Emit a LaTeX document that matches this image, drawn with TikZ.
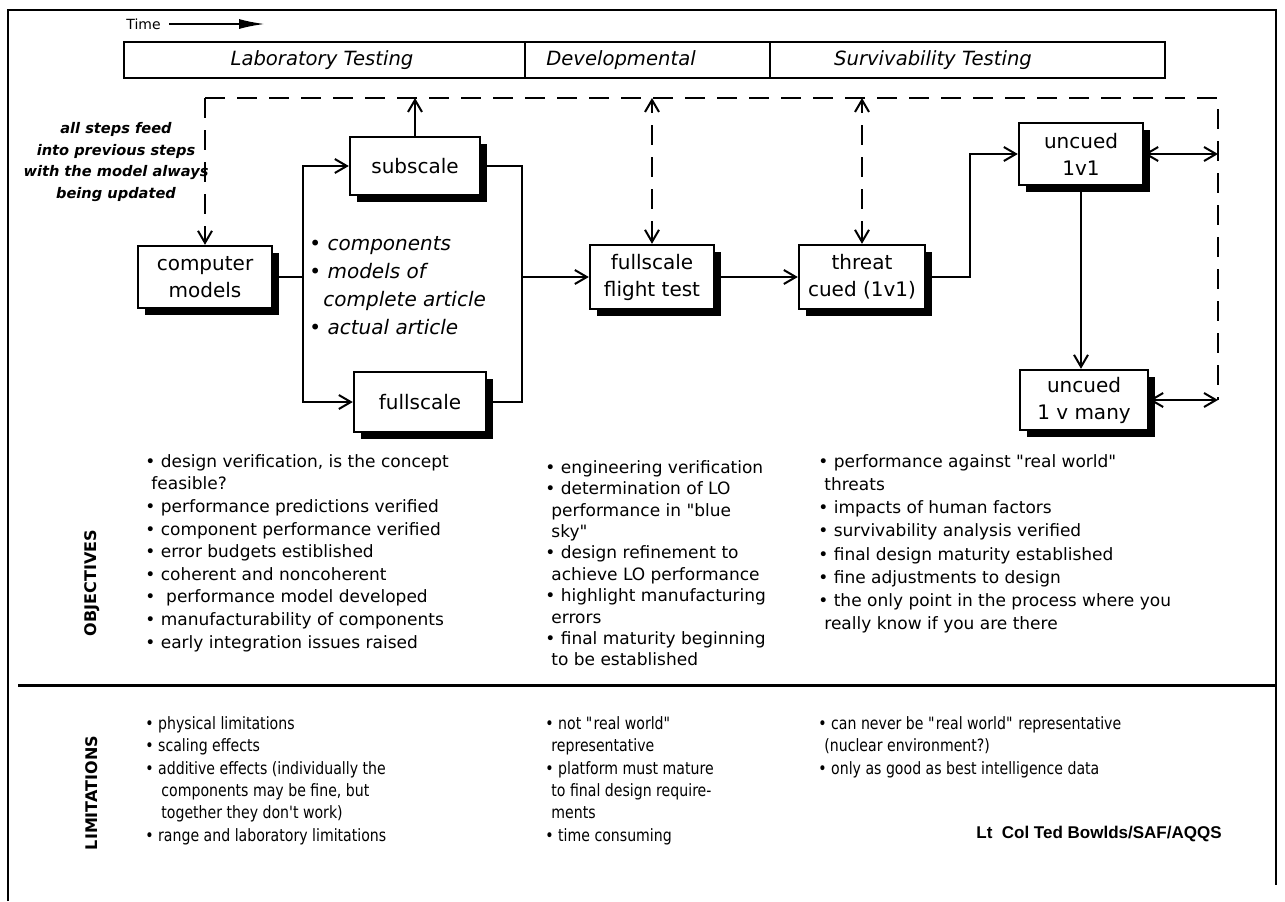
\documentclass[tikz,border=0pt]{standalone}
\usepackage{fontspec}
\setmainfont{DejaVu Sans}
\newfontfamily\narrowfont[FakeStretch=0.83]{DejaVu Sans}
\newfontfamily\signfont{Liberation Sans}
\usetikzlibrary{arrows.meta,shadows}

\begin{document}
\begin{tikzpicture}[x=0.5pt,y=-0.5pt]
      \tikzstyle{stage}=[draw,line width=1.2pt,fill=white,align=center,inner sep=1pt,font=\fontsize{10}{13.5}\selectfont,drop shadow={shadow xshift=3.5pt,shadow yshift=-3.5pt,opacity=1,fill=black}]
      \tikzstyle{phasetext}=[inner sep=0pt,font=\fontsize{9.8}{12}\selectfont\itshape]
      \tikzstyle{parts}=[align=left,anchor=north west,inner sep=0pt,font=\fontsize{10}{14}\selectfont\itshape]
      \tikzstyle{note}=[align=center,inner sep=0pt,font=\fontsize{7.3}{10.8}\selectfont\bfseries\itshape]
      \tikzstyle{body}=[align=left,anchor=north west,inner sep=0pt,font=\fontsize{8.5}{11.3}\selectfont]
      \tikzstyle{limbody}=[body,font=\narrowfont\fontsize{8.5}{11.2}\selectfont]
      \tikzstyle{sidelabel}=[rotate=90,inner sep=0pt,font=\fontsize{8}{10}\selectfont\bfseries]
      \tikzstyle{link}=[line width=1pt]
      \tikzstyle{arr}=[link,-{Straight Barb[length=6pt,width=7pt]}]
      \tikzstyle{biarr}=[link,{Straight Barb[length=6pt,width=7pt]}-{Straight Barb[length=6pt,width=7pt]}]
      \tikzstyle{feedback}=[link,dash pattern=on 10pt off 6pt]
      \useasboundingbox (0,0) rectangle (1285,901);
      % frame, time and phases
      \draw[line width=1.2pt] (8,901) -- (8,10) -- (1276,10) -- (1276,885);
      \node[anchor=west,inner sep=0pt,font=\fontsize{7}{9}\selectfont] (time) at (126,24) {Time};
      \coordinate (timeend) at (265,24);
      \draw[line width=1pt,-{Latex[length=13pt,width=5pt]}] ([xshift=4pt]time.east) -- (timeend);
      \draw[line width=1.2pt] (124,42) rectangle (1165,78) (525,42) -- (525,78) (770,42) -- (770,78);
      \node[phasetext] (lab) at (322,60) {Laboratory Testing};
      \node[phasetext] (dev) at (621,60) {Developmental};
      \node[phasetext] (surv) at (933,60) {Survivability Testing};
      % stages
      \node[stage,minimum width=67pt,minimum height=31pt] (models) at (205,277) {computer\\models};
      \node[stage,minimum width=65pt,minimum height=29pt] (sub) at (415,166) {subscale};
      \node[stage,minimum width=66pt,minimum height=30pt] (full) at (420,402) {fullscale};
      \node[stage,minimum width=62pt,minimum height=32pt] (flight) at (652,277) {fullscale\\flight test};
      \node[stage,minimum width=63pt,minimum height=32pt] (threat) at (862,277) {threat\\cued (1v1)};
      \node[stage,minimum width=62pt,minimum height=31pt] (onevone) at (1081,154) {uncued\\1v1};
      \node[stage,minimum width=64pt,minimum height=30pt] (onevmany) at (1084,400) {uncued\\1 v many};
      \node[parts] (parts) at (309,236) {\textbullet\ components\\\textbullet\ models of\\\hspace*{7pt}complete article\\\textbullet\ actual article};
      \node[note] (feednote) at (116,162) {all steps feed\\into previous steps\\with the model always\\being updated};
      % forward flow
      \coordinate (split) at (303,277);
      \coordinate (join) at (522,277);
      \coordinate (turn) at (970,277);
      \draw[link] (models) -- (split);
      \draw[arr] (split) |- (sub.west);
      \draw[arr] (split) |- (full.west);
      \draw[link] (sub.east) -| (join);
      \draw[link] (full.east) -| (join);
      \draw[arr] (join) -- (flight.west);
      \draw[arr] (flight) -- (threat);
      \draw[arr] (threat.east) -- (turn) |- (onevone.west);
      \draw[arr] (onevone.south) -- (onevone.south |- onevmany.north);
      % feedback
      \coordinate (backL) at (205,98);
      \coordinate (backR) at (1218,98);
      \draw[feedback] (backL) -- (backR) -- (onevmany.east -| backR);
      \draw[feedback,-{Straight Barb[length=6pt,width=7pt]}] (backL) -- (models.north);
      \draw[arr] (sub.north) -- (sub.north |- backL);
      \draw[biarr,feedback] (flight.north) -- (flight.north |- backL);
      \draw[biarr,feedback] (threat.north) -- (threat.north |- backL);
      \draw[biarr] (onevone.east) -- (onevone.east -| backR);
      \draw[biarr] (onevmany.east) -- (onevmany.east -| backR);
      % objectives
      \node[sidelabel] (objlabel) at (92,583) {OBJECTIVES};
      \node[body] (labobj) at (145,454) {\textbullet\ design verification, is the concept\\\hspace*{3pt}feasible?\\\textbullet\ performance predictions verified\\\textbullet\ component performance verified\\\textbullet\ error budgets estiblished\\\textbullet\ coherent and noncoherent\\\textbullet\ \ performance model developed\\\textbullet\ manufacturability of components\\\textbullet\ early integration issues raised};
      \node[body,font=\fontsize{8.5}{10.7}\selectfont] (devobj) at (545,460) {\textbullet\ engineering verification\\\textbullet\ determination of LO\\\hspace*{3pt}performance in \textquotedbl blue\\\hspace*{3pt}sky\textquotedbl\\\textbullet\ design refinement to\\\hspace*{3pt}achieve LO performance\\\textbullet\ highlight manufacturing\\\hspace*{3pt}errors\\\textbullet\ final maturity beginning\\\hspace*{3pt}to be established};
      \node[body,font=\fontsize{8.5}{11.6}\selectfont] (survobj) at (818,454) {\textbullet\ performance against \textquotedbl real world\textquotedbl\\\hspace*{3pt}threats\\\textbullet\ impacts of human factors\\\textbullet\ survivability analysis verified\\\textbullet\ final design maturity established\\\textbullet\ fine adjustments to design\\\textbullet\ the only point in the process where you\\\hspace*{3pt}really know if you are there};
      \draw[line width=1.5pt] (18,685) -- (1276,685);
      % limitations
      \node[sidelabel] (limlabel) at (92,793) {LIMITATIONS};
      \node[limbody] (lablim) at (145,716) {\textbullet\ physical limitations\\\textbullet\ scaling effects\\\textbullet\ additive effects (individually the\\\hspace*{8pt}components may be fine, but\\\hspace*{8pt}together they don't work)\\\textbullet\ range and laboratory limitations};
      \node[limbody] (devlim) at (545,716) {\textbullet\ not \textquotedbl real world\textquotedbl\\\hspace*{3pt}representative\\\textbullet\ platform must mature\\\hspace*{3pt}to final design require-\\\hspace*{3pt}ments\\\textbullet\ time consuming};
      \node[limbody] (survlim) at (818,716) {\textbullet\ can never be \textquotedbl real world\textquotedbl\ representative\\\hspace*{3pt}(nuclear environment?)\\\textbullet\ only as good as best intelligence data};
      \node[anchor=base east,inner sep=0pt,font=\signfont\fontsize{8.5}{11}\selectfont\bfseries] (sign) at (1222,838) {Lt\ \ Col Ted Bowlds/SAF/AQQS};
\end{tikzpicture}
\end{document}
